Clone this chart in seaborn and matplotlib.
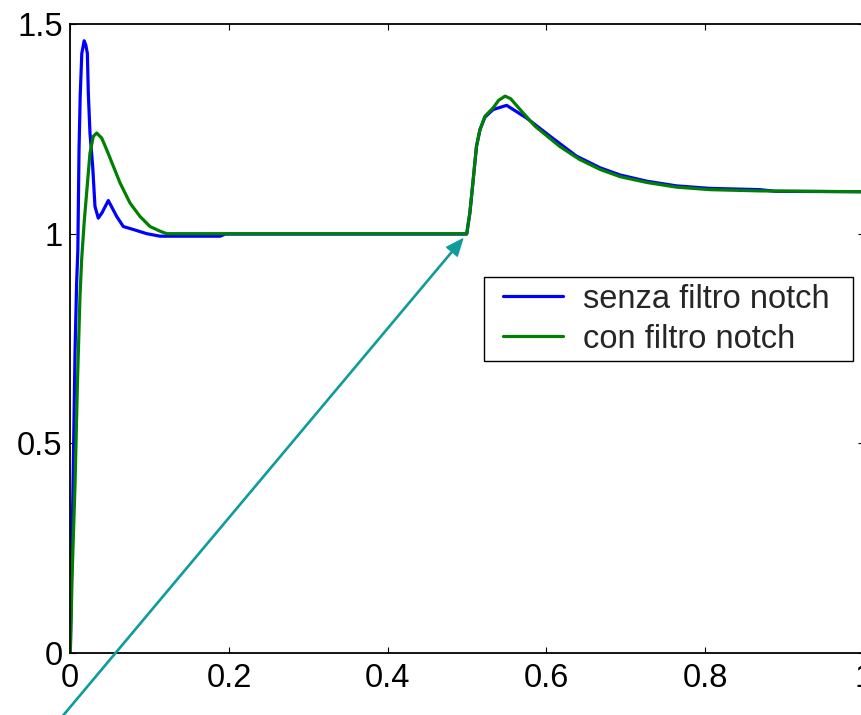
import matplotlib
matplotlib.use("Agg")
import matplotlib.pyplot as plt
from matplotlib.lines import Line2D
from matplotlib.legend_handler import HandlerLine2D
import seaborn as sns
import pandas as pd

# ---- data ----
x_senza = [0.0, 0.0017, 0.0038, 0.006, 0.008, 0.0095, 0.011, 0.0125, 0.0145, 0.0175,
           0.0195, 0.0215, 0.0227, 0.0248, 0.0282, 0.0311, 0.0353, 0.040, 0.0479,
           0.0585, 0.0668, 0.0794, 0.0963, 0.113, 0.189, 0.195, 0.4997, 0.5037,
           0.5079, 0.512, 0.5164, 0.5227, 0.533, 0.550, 0.5575, 0.575, 0.605,
           0.638, 0.668, 0.693, 0.727, 0.764, 0.806, 0.869, 0.889, 1.0]
y_senza = [0.0, 0.206, 0.445, 0.723, 0.883, 0.96, 1.2, 1.33, 1.43, 1.46,
           1.45, 1.43, 1.336, 1.24, 1.161, 1.065, 1.037, 1.05, 1.079,
           1.041, 1.017, 1.010, 1.0, 0.994, 0.994, 0.999, 0.999, 1.05,
           1.129, 1.208, 1.248, 1.278, 1.296, 1.306, 1.297, 1.276, 1.232,
           1.185, 1.157, 1.140, 1.125, 1.114, 1.108, 1.105, 1.101, 1.100]

x_con = [0.0, 0.0025, 0.006, 0.009, 0.0122, 0.0143, 0.0176, 0.0248, 0.029,
         0.0333, 0.0396, 0.0459, 0.0542, 0.0627, 0.0753, 0.0879, 0.1005,
         0.113, 0.1215, 0.4997, 0.5037, 0.5079, 0.512, 0.5164, 0.5227, 0.533,
         0.540, 0.548, 0.555, 0.567, 0.586, 0.617, 0.642, 0.668, 0.693, 0.727,
         0.764, 0.806, 0.869, 1.0]
y_con = [0.0, 0.198, 0.405, 0.644, 0.85, 0.938, 1.03, 1.192, 1.232,
         1.240, 1.228, 1.200, 1.161, 1.121, 1.073, 1.041, 1.017,
         1.006, 1.0, 1.0, 1.05, 1.129, 1.208, 1.248, 1.28, 1.30,
         1.318, 1.328, 1.322, 1.296, 1.256, 1.208, 1.177, 1.153, 1.136, 1.122,
         1.111, 1.105, 1.102, 1.100]

labels = ["senza filtro notch", "con filtro notch"]
x_ticks = [0, 0.2, 0.4, 0.6, 0.8, 1.0]
x_ticklabels = ["0", "0.2", "0.4", "0.6", "0.8", "1"]
y_ticks = [0, 0.5, 1.0, 1.5]
y_ticklabels = ["0", "0.5", "1", "1.5"]

df = pd.concat([
    pd.DataFrame({"t": x_senza, "y": y_senza, "serie": labels[0]}),
    pd.DataFrame({"t": x_con, "y": y_con, "serie": labels[1]}),
], ignore_index=True)

sns.set_style("ticks")
plt.rcParams["font.family"] = ["Liberation Sans", "DejaVu Sans"]

W, H = 861, 715
fig = plt.figure(figsize=(W / 100, H / 100), dpi=100)
ax = fig.add_axes([70.3 / W, (H - 653) / H, (863.6 - 70.3) / W, (653 - 24) / H])

sns.lineplot(data=df, x="t", y="y", hue="serie", hue_order=labels,
             palette=["#0000ff", "#008000"], estimator=None, sort=False,
             linewidth=2.3, ax=ax)

ax.set_xlim(0, 1)
ax.set_ylim(0, 1.5)
ax.set_xticks(x_ticks)
ax.set_xticklabels(x_ticklabels)
ax.set_yticks(y_ticks)
ax.set_yticklabels(y_ticklabels)
ax.set_xlabel("")
ax.set_ylabel("")
ax.tick_params(direction="in", length=4, width=0.8, labelsize=23.5, pad=5.5,
               top=True, right=True, colors="black")
ax.tick_params(axis="x", pad=7)
for s in ax.spines.values():
    s.set_visible(True)
    s.set_linewidth(1.3)
    s.set_color("black")

# arrow
ax.annotate("", xy=(0.4946, 0.9874), xytext=(-0.035, -0.2076),
            arrowprops=dict(facecolor="#119c9c", edgecolor="#119c9c",
                            width=0.9, headwidth=10, headlength=12, shrink=0),
            annotation_clip=False)

leg = ax.legend(loc="upper left",
                bbox_to_anchor=(484 / W, (H - 362) / H, 369 / W, 85 / H),
                bbox_transform=fig.transFigure, borderaxespad=0, mode="expand",
                fontsize=23.5, handlelength=2.22, handletextpad=0.61,
                labelspacing=0.28, borderpad=0.2, fancybox=False,
                framealpha=1, edgecolor="black", title=None,
                handler_map={Line2D: HandlerLine2D(xpad=0.38)})
leg.get_frame().set_linewidth(1.0)
for l in leg.get_lines():
    l.set_linewidth(2.3)

fig.savefig("out.png", dpi=100)
